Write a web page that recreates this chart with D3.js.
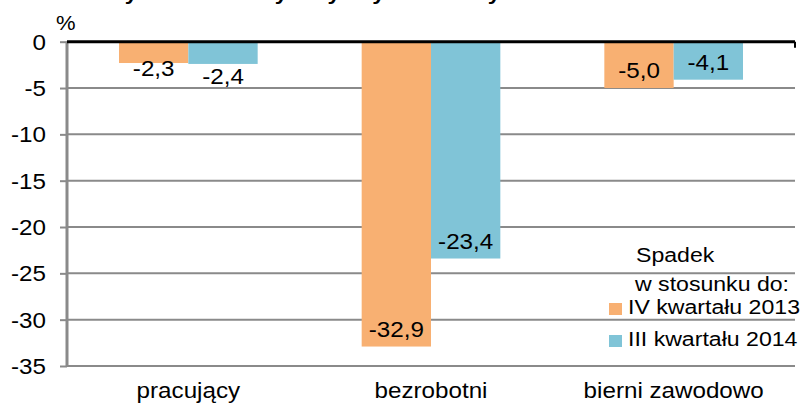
<!DOCTYPE html>
<html>
<head>
<meta charset="utf-8">
<script src="https://cdn.jsdelivr.net/npm/d3@7"></script>
<style>
  body { margin: 0; background: #fff; }
  text { font-family: "Liberation Sans", Arial, sans-serif; fill: #000; }
</style>
</head>
<body>
<svg id="chart" width="805" height="406"></svg>
<script>
// data
const categories = ["pracujący", "bezrobotni", "bierni zawodowo"];
const seriesNames = ["IV kwartału 2013", "III kwartału 2014"];
const vsQ4_2013 = [-2.3, -32.9, -5.0];
const vsQ3_2014 = [-2.4, -23.4, -4.1];
const yTicks = [0, -5, -10, -15, -20, -25, -30, -35];
const colors = ["#f8b072", "#80c4d7"];

const values = [vsQ4_2013, vsQ3_2014];

const svg = d3.select("#chart"),
  margin = {top: 41.7, right: 10, bottom: 40, left: 67},
  width = +svg.attr("width") - margin.left - margin.right,
  height = +svg.attr("height") - margin.top - margin.bottom;

// text in the picture is a bit wider than plain Arial
const SX = 1.1;
function txt(sel, x, y, s, anchor, size, weight) {
  return sel.append("text")
    .attr("transform", "translate(" + x + "," + y + ") scale(" + SX + ",1)")
    .attr("text-anchor", anchor || "start")
    .style("font-size", (size || 22) + "px")
    .style("font-weight", weight || "normal")
    .text(s);
}
const fmt = v => d3.format(".1f")(v).replace("−", "-").replace(".", ",");

// title (mostly cropped in the original)
txt(svg, 108, 0, "Dynamika liczby aktywnych i biernych zawodowo", "start", 21, "bold");

const g = svg.append("g").attr("transform", "translate(" + margin.left + "," + margin.top + ")");

const x0 = d3.scaleBand().domain(categories).range([0, width]).padding(0);
const x1 = d3.scaleBand().domain(seriesNames).range([0, x0.bandwidth()])
  .paddingInner(0).paddingOuter(0.75);
const y = d3.scaleLinear().domain([-35, 0]).range([height, 0]);

// grid
g.selectAll(".grid").data(yTicks.filter(d => d !== 0)).enter().append("line")
  .attr("x1", 0).attr("x2", width)
  .attr("y1", d => y(d)).attr("y2", d => y(d))
  .attr("stroke", "#8a8a8a").attr("stroke-width", 2);

// y axis
const yAxis = g.append("g").call(d3.axisLeft(y).tickValues(yTicks).tickSize(7));
yAxis.select(".domain").remove();
yAxis.selectAll(".tick line").attr("stroke", "#8a8a8a").attr("stroke-width", 2);
yAxis.selectAll(".tick text").remove();
yTicks.forEach(t => txt(g, -21, y(t) + 8, String(t), "end", 22));

g.append("line").attr("x1", 0).attr("x2", 0).attr("y1", 0).attr("y2", height)
  .attr("stroke", "#8a8a8a").attr("stroke-width", 3);

txt(svg, 56, 30, "%", "start", 20);

// bars
const groups = g.selectAll(".grp").data(categories).enter().append("g")
  .attr("transform", d => "translate(" + x0(d) + ",0)");

groups.selectAll("rect").data((c, i) => seriesNames.map((s, k) => ({s: s, k: k, v: values[k][i]})))
  .enter().append("rect")
  .attr("x", d => x1(d.s))
  .attr("width", x1.bandwidth())
  .attr("y", y(0))
  .attr("height", d => y(d.v) - y(0))
  .attr("fill", d => colors[d.k]);

// value labels
groups.each(function(c, i) {
  const grp = d3.select(this);
  seriesNames.forEach((s, k) => {
    const v = values[k][i];
    const h = y(v) - y(0);
    const cx = x1(s) + x1.bandwidth() / 2;
    const by = h < 30 ? y(v) + 13 + k * 7 : y(v) - 10;
    txt(grp, cx, by, fmt(v), "middle", 22);
  });
});

// zero line
g.append("line").attr("x1", 0).attr("x2", width).attr("y1", y(0)).attr("y2", y(0))
  .attr("stroke", "#000").attr("stroke-width", 3);
g.append("line").attr("x1", width).attr("x2", width).attr("y1", y(0)).attr("y2", y(0) + 6)
  .attr("stroke", "#000").attr("stroke-width", 2);

// category labels
categories.forEach(c => txt(g, x0(c) + x0.bandwidth() / 2, height + 32, c, "middle", 22));

// legend
txt(svg, 636, 262, "Spadek", "start", 21);
txt(svg, 635, 291, "w stosunku do:", "start", 21);
seriesNames.forEach((s, k) => {
  const ly = 314 + k * 32;
  svg.append("rect").attr("x", 609).attr("y", ly - 11).attr("width", 13).attr("height", 12).attr("fill", colors[k]);
  txt(svg, 628, ly, s, "start", 21);
});
</script>
</body>
</html>
